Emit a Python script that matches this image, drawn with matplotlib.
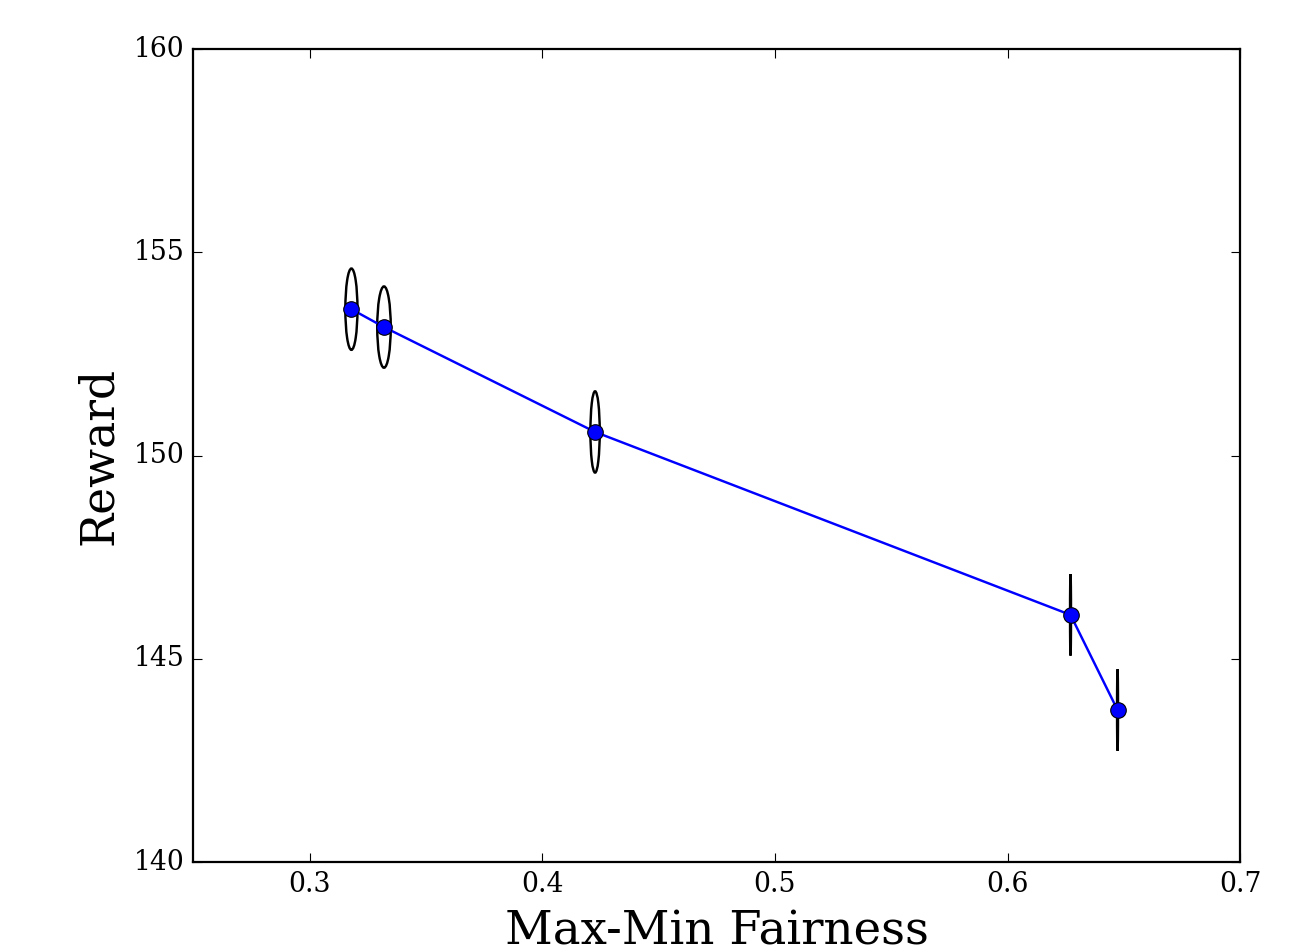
import matplotlib
matplotlib.use("Agg")
import matplotlib.pyplot as plt
from matplotlib.patches import Ellipse

# fairness / reward results
fairness = [0.318, 0.332, 0.4227, 0.627, 0.6472]
reward = [153.6, 153.16, 150.58, 146.08, 143.74]
fairness_spread = [0.0052, 0.0058, 0.0040, 0.0004, 0.0004]
reward_spread = [2.0, 2.0, 2.0, 2.0, 2.0]

plt.style.use("classic")
plt.rcParams["font.family"] = "DejaVu Serif"

fig = plt.figure(figsize=(1314 / 160, 952 / 160), dpi=160)
ax = fig.add_axes([0.147, 0.0945, 0.797, 0.854])

for x, y, w, h in zip(fairness, reward, fairness_spread, reward_spread):
    ax.add_patch(Ellipse((x, y), w, h, fill=False, edgecolor="k", lw=1.1, zorder=1))

ax.plot(fairness, reward, "-o", color="b", lw=1.1, ms=7, zorder=2)

ax.set_xlim(0.25, 0.7)
ax.set_ylim(140, 160)
ax.set_xticks([0.3, 0.4, 0.5, 0.6, 0.7])
ax.set_yticks([140, 145, 150, 155, 160])
ax.tick_params(labelsize=12)
ax.set_xlabel("Max-Min Fairness", fontsize=21, labelpad=5)
ax.set_ylabel("Reward", fontsize=20.5)

fig.savefig("out.png", dpi=160)
